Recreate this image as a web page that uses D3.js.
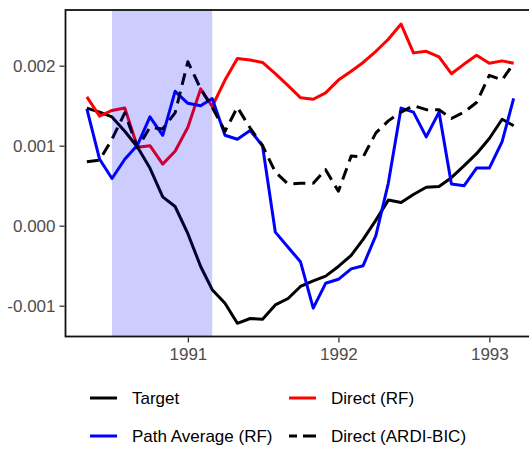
<!DOCTYPE html>
<html>
<head>
<meta charset="utf-8">
<script src="https://cdn.jsdelivr.net/npm/d3@7"></script>
<style>
  body { margin: 0; background: #fff; }
  svg { display: block; font-family: "Liberation Sans", Arial, sans-serif; }
</style>
</head>
<body>
<div id="chart"></div>
<script>
// monthly dates, May 1990 .. Mar 1993
let startMonth = new Date(1990, 4, 1), endMonth = new Date(1993, 2, 1);
let months = d3.timeMonth.range(startMonth, d3.timeMonth.offset(endMonth, 1));

let target = [0.00147, 0.00142, 0.00136, 0.00118, 0.00098, 0.00072, 0.00036, 0.00024, -0.00010,
  -0.00051, -0.00080, -0.00097, -0.00122, -0.00116, -0.00117, -0.00099, -0.00091, -0.00076,
  -0.00069, -0.00063, -0.00051, -0.00037, -0.00017, 0.00007, 0.00032, 0.00029, 0.00039,
  0.00048, 0.00049, 0.00060, 0.00075, 0.00090, 0.00109, 0.00133, 0.00125];

let directRF = [0.00161, 0.00137, 0.00144, 0.00147, 0.00098, 0.00100, 0.00077, 0.00093, 0.00123,
  0.00171, 0.00149, 0.00182, 0.00209, 0.00207, 0.00204, 0.00190, 0.00175, 0.00160,
  0.00158, 0.00166, 0.00182, 0.00193, 0.00204, 0.00218, 0.00233, 0.00252, 0.00216,
  0.00218, 0.00211, 0.00190, 0.00202, 0.00213, 0.00203, 0.00206, 0.00203];

let pathAvgRF = [0.00146, 0.00083, 0.00059, 0.00083, 0.00101, 0.00136, 0.00113, 0.00168, 0.00153,
  0.00150, 0.00159, 0.00113, 0.00108, 0.00119, 0.00100, -0.00008, -0.00027, -0.00045,
  -0.00103, -0.00072, -0.00067, -0.00054, -0.00050, -0.00012, 0.00053, 0.00147, 0.00142,
  0.00111, 0.00142, 0.00052, 0.00050, 0.00072, 0.00072, 0.00105, 0.00159];

let directARDI = [0.00080, 0.00082, 0.00108, 0.00141, 0.00097, 0.00123, 0.00121, 0.00141, 0.00205,
  0.00171, 0.00148, 0.00118, 0.00148, 0.00122, 0.00100, 0.00067, 0.00052, 0.00053,
  0.00053, 0.00070, 0.00043, 0.00087, 0.00086, 0.00116, 0.00131, 0.00142, 0.00150,
  0.00145, 0.00145, 0.00134, 0.00142, 0.00154, 0.00188, 0.00182, 0.00203];

let yTicks = [-0.001, 0, 0.001, 0.002];
let xTicks = [new Date(1991, 0, 1), new Date(1992, 0, 1), new Date(1993, 0, 1)];
let recession = [new Date(1990, 6, 1), new Date(1991, 2, 1)];
let yDomain = [-0.001385, 0.002696];

let width = 529, height = 449;
let panel = { left: 65.5, top: 10, bottom: 336.5, right: 535 };

let series = [
  { name: "Target", values: target, color: "#000000", dash: null },
  { name: "Direct (RF)", values: directRF, color: "#ff0000", dash: null },
  { name: "Path Average (RF)", values: pathAvgRF, color: "#0000ff", dash: null },
  { name: "Direct (ARDI-BIC)", values: directARDI, color: "#000000", dash: "12,7" }
];

let svg = d3.select("#chart")
    .append("svg")
    .attr("width", width)
    .attr("height", height);

// 5% expansion like ggplot
let pad = (endMonth - startMonth) * 0.05;
let x = d3.scaleTime()
    .domain([new Date(+startMonth - pad), new Date(+endMonth + pad)])
    .range([panel.left, panel.right]);

let y = d3.scaleLinear()
    .domain(yDomain)
    .range([panel.bottom, panel.top]);

let line = d3.line()
    .x((d, i) => x(months[i]))
    .y(d => y(d));

let lines = svg.append("g");
series.forEach(function(s) {
    lines.append("path")
        .datum(s.values)
        .attr("d", line)
        .attr("fill", "none")
        .attr("stroke", s.color)
        .attr("stroke-width", 3)
        .attr("stroke-linejoin", "round")
        .attr("stroke-dasharray", s.dash);
});

// recession band sits on top of the lines, semi transparent
svg.append("rect")
    .attr("x", x(recession[0]))
    .attr("y", panel.top)
    .attr("width", x(recession[1]) - x(recession[0]))
    .attr("height", panel.bottom - panel.top)
    .attr("fill", "#0000ff")
    .attr("fill-opacity", 0.2);

// panel border
svg.append("rect")
    .attr("x", panel.left)
    .attr("y", panel.top)
    .attr("width", panel.right - panel.left)
    .attr("height", panel.bottom - panel.top)
    .attr("fill", "none")
    .attr("stroke", "#111")
    .attr("stroke-width", 1.8);

// axes
let yAxis = svg.append("g")
    .attr("transform", `translate(${panel.left - 1},0)`)
    .call(d3.axisLeft(y).tickValues(yTicks).tickSize(5).tickPadding(4)
        .tickFormat(d => d.toFixed(3)));

let xAxis = svg.append("g")
    .attr("transform", `translate(0,${panel.bottom + 1})`)
    .call(d3.axisBottom(x).tickValues(xTicks).tickSize(5).tickPadding(5)
        .tickFormat(d3.timeFormat("%Y")));

[yAxis, xAxis].forEach(function(a) {
    a.select(".domain").remove();
    a.selectAll(".tick line").attr("stroke", "#333").attr("stroke-width", 1.3);
    a.selectAll(".tick text")
        .attr("fill", "#4d4d4d")
        .style("font-size", "17px")
        .style("font-family", "'Liberation Sans', Arial, sans-serif");
});

// legend, two columns
let legendPos = [
  { s: series[0], kx: 90, ty: 398 },
  { s: series[1], kx: 289, ty: 398 },
  { s: series[2], kx: 90, ty: 436 },
  { s: series[3], kx: 289, ty: 436 }
];
let legend = svg.append("g");
legendPos.forEach(function(p) {
    legend.append("line")
        .attr("x1", p.kx).attr("x2", p.kx + 27)
        .attr("y1", p.ty).attr("y2", p.ty)
        .attr("stroke", p.s.color)
        .attr("stroke-width", 3)
        .attr("stroke-dasharray", p.s.dash ? "8,6,14" : null);
    legend.append("text")
        .attr("x", p.kx + 42)
        .attr("y", p.ty)
        .attr("dy", "0.35em")
        .style("font-size", "17px")
        .attr("fill", "#000")
        .text(p.s.name);
});
</script>
</body>
</html>
